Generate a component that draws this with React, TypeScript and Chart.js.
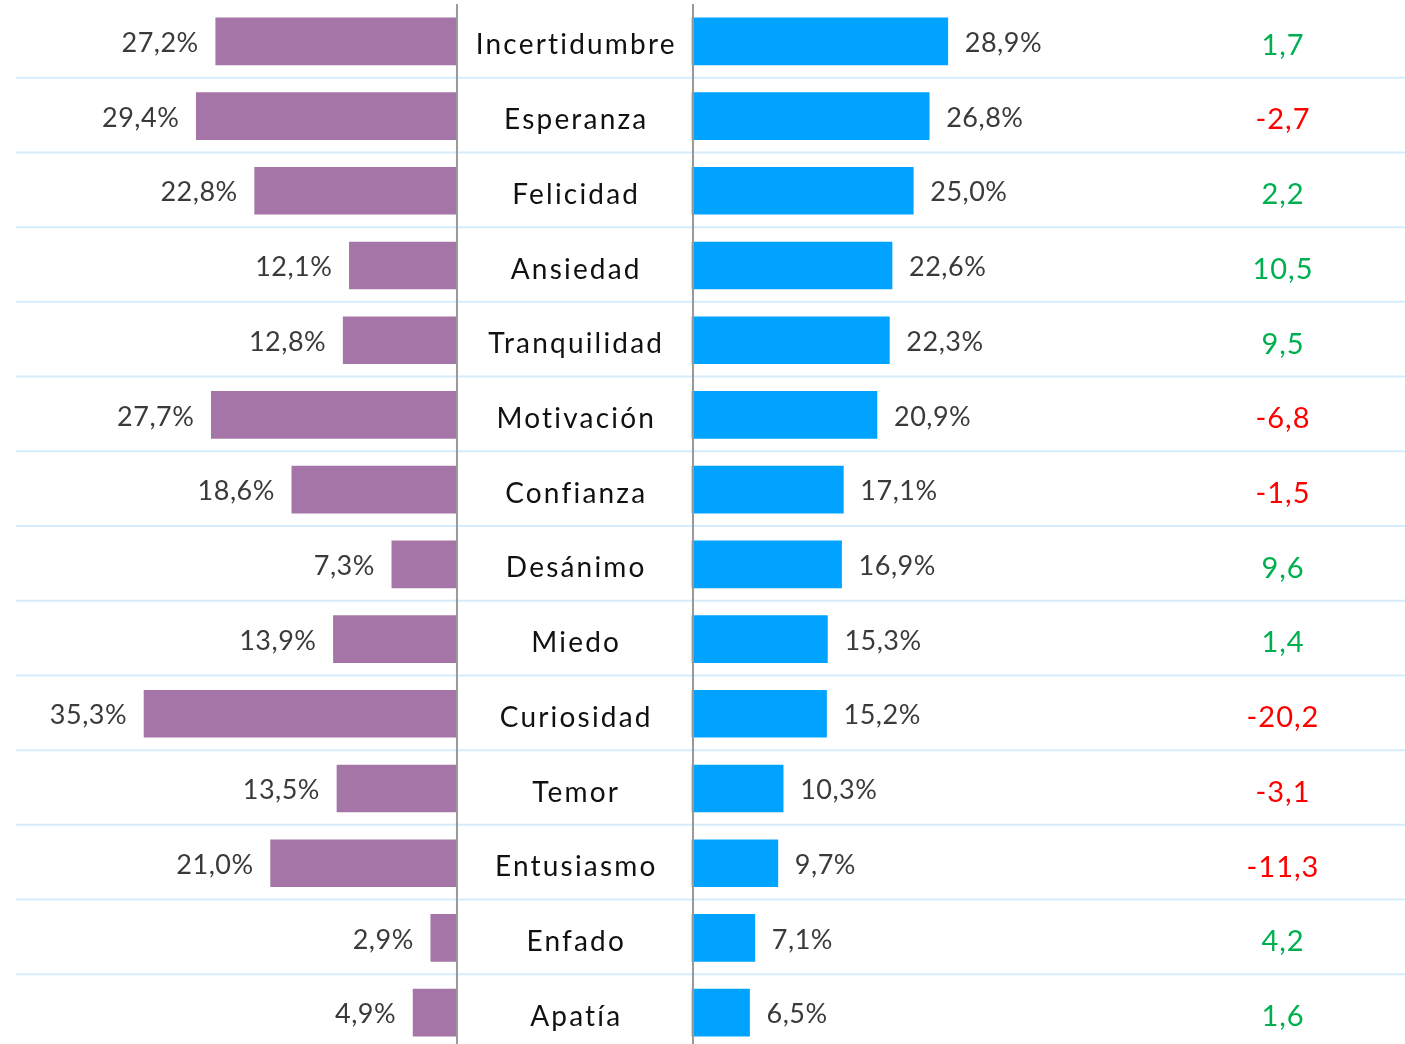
import React, { useEffect, useRef } from "react";
import { Chart, registerables } from "chart.js";

Chart.register(...registerables);

const categories = [
  "Incertidumbre", "Esperanza", "Felicidad", "Ansiedad", "Tranquilidad", "Motivación", "Confianza",
  "Desánimo", "Miedo", "Curiosidad", "Temor", "Entusiasmo", "Enfado", "Apatía",
];
const leftValues = [27.2, 29.4, 22.8, 12.1, 12.8, 27.7, 18.6, 7.3, 13.9, 35.3, 13.5, 21.0, 2.9, 4.9];
const rightValues = [28.9, 26.8, 25.0, 22.6, 22.3, 20.9, 17.1, 16.9, 15.3, 15.2, 10.3, 9.7, 7.1, 6.5];
const diffValues = [1.7, -2.7, 2.2, 10.5, 9.5, -6.8, -1.5, 9.6, 1.4, -20.2, -3.1, -11.3, 4.2, 1.6];

const fmt = (v: number) => v.toFixed(1).replace(".", ",");

const LEFT_COLOR = "#a475a6";
const RIGHT_COLOR = "#00a3ff";
const FONT = "Lato, 'Open Sans', sans-serif";

const overlayPlugin = {
  id: "overlay",
  beforeDatasetsDraw(chart: any) {
    const ctx = chart.ctx;
    const y = chart.scales.y;
    const area = chart.chartArea;
    ctx.save();
    ctx.strokeStyle = "#d5ecfb";
    ctx.lineWidth = 2;
    for (let i = 0; i < categories.length - 1; i++) {
      const yy = (y.getPixelForValue(i) + y.getPixelForValue(i + 1)) / 2 - 1;
      ctx.beginPath();
      ctx.moveTo(area.left, yy);
      ctx.lineTo(area.right, yy);
      ctx.stroke();
    }
    ctx.restore();
  },
  afterDatasetsDraw(chart: any) {
    const ctx = chart.ctx;
    const y = chart.scales.y;
    const area = chart.chartArea;
    const xL0 = chart.scales.xL.getPixelForValue(0);
    const xR0 = chart.scales.xR.getPixelForValue(0);
    ctx.save();
    ctx.strokeStyle = "#999999";
    ctx.lineWidth = 2;
    [xL0 + 0.5, xR0 + 1].forEach((x) => {
      ctx.beginPath();
      ctx.moveTo(x, area.top);
      ctx.lineTo(x, area.bottom);
      ctx.stroke();
    });
    const metaL = chart.getDatasetMeta(0);
    const metaR = chart.getDatasetMeta(1);
    ctx.textBaseline = "middle";
    for (let i = 0; i < categories.length; i++) {
      const cy = y.getPixelForValue(i);
      ctx.font = `27px ${FONT}`;
      ctx.fillStyle = "#3a3a3a";
      (ctx as any).letterSpacing = "0.5px";
      ctx.textAlign = "right";
      ctx.fillText(fmt(leftValues[i]) + "%", metaL.data[i].x - 17, cy + 2);
      ctx.textAlign = "left";
      ctx.fillText(fmt(rightValues[i]) + "%", metaR.data[i].x + 17, cy + 2);
      ctx.font = `28px ${FONT}`;
      ctx.fillStyle = "#111111";
      ctx.textAlign = "center";
      (ctx as any).letterSpacing = "2.2px";
      ctx.fillText(categories[i], (xL0 + xR0) / 2 + 2, cy + 4);
      ctx.font = `29px ${FONT}`;
      (ctx as any).letterSpacing = "1px";
      ctx.fillStyle = diffValues[i] < 0 ? "#ff0000" : "#00b050";
      ctx.fillText(fmt(diffValues[i]), 1283, cy + 4);
      (ctx as any).letterSpacing = "0px";
    }
    ctx.restore();
  },
};

export default function App() {
  const canvasRef = useRef<HTMLCanvasElement | null>(null);

  useEffect(() => {
    if (!canvasRef.current) return;
    const chart = new Chart(canvasRef.current, {
      type: "bar",
      data: {
        labels: categories,
        datasets: [
          {
            label: "Anterior",
            data: leftValues,
            backgroundColor: LEFT_COLOR,
            xAxisID: "xL",
            yAxisID: "y",
            barThickness: 47,
            grouped: false,
          },
          {
            label: "Actual",
            data: rightValues,
            backgroundColor: RIGHT_COLOR,
            xAxisID: "xR",
            yAxisID: "y",
            barThickness: 47,
            grouped: false,
          },
        ],
      },
      options: {
        indexAxis: "y",
        responsive: false,
        animation: false,
        layout: { padding: { top: 4, left: 16, right: 0, bottom: 0 } },
        plugins: { legend: { display: false }, tooltip: { enabled: false } },
        scales: {
          xL: { type: "linear", display: false, reverse: true, min: -107.18, max: 49.77 },
          xR: { type: "linear", display: false, min: -76.38, max: 80.56 },
          y: { type: "category", display: false, grid: { display: false } },
        },
      },
      plugins: [overlayPlugin],
    } as any);
    return () => chart.destroy();
  }, []);

  return (
    <div style={{ position: "absolute", left: 0, top: 0, width: 1405, height: 1050, background: "#fff" }}>
      <canvas ref={canvasRef} width={1405} height={1050} style={{ display: "block" }} />
    </div>
  );
}
